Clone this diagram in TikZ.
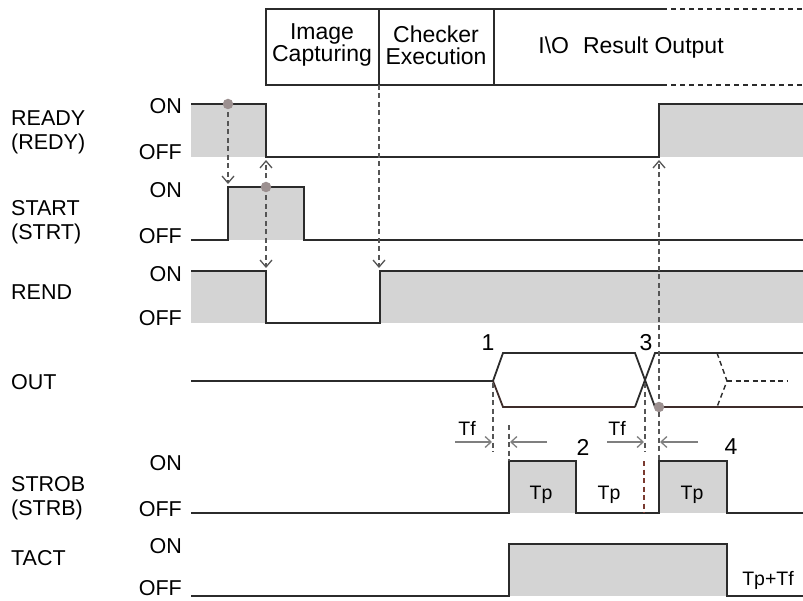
\documentclass[tikz,border=0pt]{standalone}
\usepackage{fontspec}
\setmainfont{Liberation Sans}
\usetikzlibrary{arrows.meta}
\definecolor{sig}{HTML}{2B2B2B}
\definecolor{shade}{HTML}{D4D4D4}
\definecolor{dotc}{HTML}{9C9090}
\definecolor{dashc}{HTML}{555555}
\definecolor{tfc}{HTML}{7F7F7F}
\definecolor{redd}{HTML}{7A3A30}
\definecolor{brn}{HTML}{3E2C2A}
\begin{document}
\begin{tikzpicture}[x=1pt,y=-1pt,
  sigline/.style={draw=sig, line width=1.8pt, line join=miter},
  shadebox/.style={fill=shade, draw=none},
  boxline/.style={draw=sig, line width=1.3pt},
  boxdash/.style={draw=sig, line width=1.3pt, dash pattern=on 5pt off 4pt},
  siglabel/.style={font=\fontsize{21.5}{24}\selectfont, anchor=west, inner sep=0pt, align=left},
  lvl/.style={font=\fontsize{21.5}{21}\selectfont, anchor=east, inner sep=0pt},
  boxtext/.style={font=\fontsize{23}{22}\selectfont, inner sep=0pt, align=center},
  numlbl/.style={font=\fontsize{23}{22}\selectfont, inner sep=0pt},
  tlbl/.style={font=\fontsize{19.5}{19}\selectfont, inner sep=0pt},
  darrow/.style={draw=dashc, line width=1.3pt, dash pattern=on 5pt off 3.5pt, -{Straight Barb[length=7pt,width=12pt]}},
  dline/.style={draw=dashc, line width=1.1pt, dash pattern=on 5pt off 3.5pt},
  tfarrow/.style={draw=tfc, line width=1.3pt, -{Straight Barb[length=6pt,width=11pt]}},
  dotnode/.style={circle, fill=dotc, draw=none, minimum size=10.5pt, inner sep=0pt}
]
\useasboundingbox (0,0) rectangle (803,601);

% ---------- header box ----------
\coordinate (bxTL) at (266,9);
\coordinate (bxBL) at (266,85);
\coordinate (bxTS) at (662,9);
\coordinate (bxBS) at (662,85);
\coordinate (bxTR) at (803,9);
\coordinate (bxBR) at (803,85);
\coordinate (dv1T) at (379,9);
\coordinate (dv1B) at (379,85);
\coordinate (dv2T) at (494,9);
\coordinate (dv2B) at (494,85);
\draw[boxline] (bxTS) -- (bxTL) -- (bxBL) -- (bxBS);
\draw[boxdash] (bxTS) -- (bxTR);
\draw[boxdash] (bxBS) -- (bxBR);
\draw[boxline] (dv1T) -- (dv1B);
\draw[boxline] (dv2T) -- (dv2B);
\node[boxtext] (tcap) at (322,45) {Image\\Capturing};
\node[boxtext] (texe) at (436,45) {Checker\\Execution};
\node[boxtext] (tio) at (631,48) {I\textbackslash O\hspace{14pt}Result Output};

% ---------- shading ----------
\fill[shadebox] (191,104) rectangle (266,157);
\fill[shadebox] (659,104) rectangle (803,157);
\fill[shadebox] (228,187) rectangle (304,240);
\fill[shadebox] (191,271) rectangle (266,323);
\fill[shadebox] (380,271) rectangle (803,323);
\fill[shadebox] (509,461) rectangle (576,513);
\fill[shadebox] (659,461) rectangle (727,513);
\fill[shadebox] (509,544) rectangle (727,596);

% ---------- signal labels ----------
\node[siglabel] (nready) at (11,132) {READY\\(REDY)};
\node[siglabel] (nstart) at (11,222) {START\\(STRT)};
\node[siglabel] (nrend) at (11,292) {REND};
\node[siglabel] (nout) at (11,382) {OUT};
\node[siglabel] (nstrob) at (11,498) {STROB\\(STRB)};
\node[siglabel] (ntact) at (11,558) {TACT};

\node[lvl] (on1) at (182,106) {ON};
\node[lvl] (off1) at (182,152) {OFF};
\node[lvl] (on2) at (182,190) {ON};
\node[lvl] (off2) at (182,236) {OFF};
\node[lvl] (on3) at (182,274) {ON};
\node[lvl] (off3) at (182,318) {OFF};
\node[lvl] (on5) at (182,463) {ON};
\node[lvl] (off5) at (182,509) {OFF};
\node[lvl] (on6) at (182,546) {ON};
\node[lvl] (off6) at (182,588) {OFF};

% ---------- signals ----------
\draw[sigline] (191,104) -- (266,104) -- (266,157) -- (659,157) -- (659,104) -- (803,104);
\draw[sigline] (191,240) -- (228,240) -- (228,187) -- (304,187) -- (304,240) -- (803,240);
\draw[sigline] (191,271) -- (266,271) -- (266,323) -- (380,323) -- (380,271) -- (803,271);
% OUT
\draw[sigline] (191,381) -- (493,381);
\draw[sigline] (493,381) -- (503,353) -- (635,353) -- (655,407);
\draw[sigline, draw=brn] (493,381) -- (503,407) -- (635,407);
\draw[sigline] (635,407) -- (655,353) -- (803,353);
\draw[sigline, draw=brn] (655,407) -- (803,407);
\draw[sigline, line width=1.4pt, dash pattern=on 5pt off 3.5pt] (717,353) -- (727,381) -- (717,407);
\draw[sigline, line width=1.4pt, dash pattern=on 5pt off 3.5pt] (727,381) -- (787,381);
% STROB
\draw[sigline] (191,513) -- (509,513) -- (509,461) -- (576,461) -- (576,513) -- (659,513) -- (659,461) -- (727,461) -- (727,513) -- (803,513);
% TACT
\draw[sigline] (191,596) -- (509,596) -- (509,544) -- (727,544) -- (727,596) -- (803,596);

% ---------- key points ----------
\coordinate (stRiseTop) at (228,184);
\coordinate (rdFallBot) at (266,160);
\coordinate (rnFallTop) at (266,268);
\coordinate (rnRiseTop) at (379,268);
\coordinate (rdRiseBot) at (659,160);

% ---------- dashed causal arrows ----------
\draw[darrow] (228,104) -- (stRiseTop);
\draw[darrow] (266,187) -- (rdFallBot);
\draw[darrow] (266,187) -- (rnFallTop);
\draw[darrow] (dv1B) -- (rnRiseTop);
\draw[darrow] (659,407) -- (rdRiseBot);

\node[dotnode] (dot1) at (228,104) {};
\node[dotnode] (dot2) at (266,187) {};
\node[dotnode] (dot3) at (659,407) {};

% ---------- timing guides ----------
\draw[dline] (493,383) -- (493,452);
\draw[dline] (509,425) -- (509,461);
\draw[dline] (645,383) -- (645,452);
\draw[dline] (659,412) -- (659,461);
\draw[dline, draw=redd] (644,461) -- (644,513);

\coordinate (tfA0) at (455,442);
\coordinate (tfA1) at (492,442);
\coordinate (tfB0) at (547,442);
\coordinate (tfB1) at (510,442);
\coordinate (tfC0) at (607,442);
\coordinate (tfC1) at (644,442);
\coordinate (tfD0) at (698,442);
\coordinate (tfD1) at (660,442);
\draw[tfarrow] (tfA0) -- (tfA1);
\draw[tfarrow] (tfB0) -- (tfB1);
\draw[tfarrow] (tfC0) -- (tfC1);
\draw[tfarrow] (tfD0) -- (tfD1);

\node[tlbl] (tf1) at (467,428) {Tf};
\node[tlbl] (tf2) at (617,428) {Tf};
\node[numlbl] (n1) at (488,343) {1};
\node[numlbl] (n3) at (646,343) {3};
\node[numlbl] (n2) at (583,447) {2};
\node[numlbl] (n4) at (731,447) {4};

\node[tlbl] (tp1) at (541,495) {Tp};
\node[tlbl] (tp2) at (609,495) {Tp};
\node[tlbl] (tp3) at (692,495) {Tp};
\node[tlbl] (tptf) at (768,580) {Tp+Tf};
\end{tikzpicture}
\end{document}
